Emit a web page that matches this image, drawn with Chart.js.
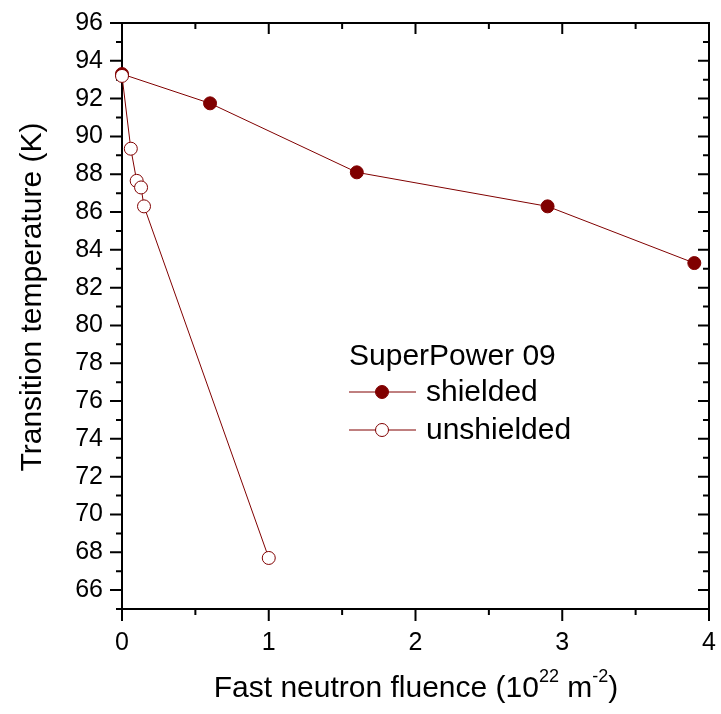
<!DOCTYPE html>
<html><head><meta charset="utf-8">
<script src="https://cdn.jsdelivr.net/npm/chart.js@4/dist/chart.umd.min.js"></script>
<style>html,body{margin:0;padding:0;background:#fff}#wrap{width:721px;height:714px}</style>
</head><body><div id="wrap"><canvas id="c" width="721" height="714"></canvas></div>
<script>
const shieldedFluence = [0, 0.6, 1.6, 2.9, 3.9];
const shieldedTc = [93.3, 91.75, 88.1, 86.3, 83.3];
const unshieldedFluence = [0, 0.06, 0.1, 0.13, 0.15, 1.0];
const unshieldedTc = [93.2, 89.35, 87.65, 87.3, 86.3, 67.7];
const xTicks = [0, 1, 2, 3, 4];
const xMinorTicks = [0.5, 1.5, 2.5, 3.5];
const yTicks = [66, 68, 70, 72, 74, 76, 78, 80, 82, 84, 86, 88, 90, 92, 94, 96];
const yMinorTicks = [65, 67, 69, 71, 73, 75, 77, 79, 81, 83, 85, 87, 89, 91, 93, 95];
const legendTitle = 'SuperPower 09';
const seriesNames = ['shielded', 'unshielded'];
const yTitle = 'Transition temperature (K)';

const COLOR = '#800000';
const FONT = 'Arial, "Liberation Sans", sans-serif';

function pts(xs, ys) { return xs.map((x, i) => ({ x: x, y: ys[i] })); }

const framePlugin = {
  id: 'frame',
  beforeDatasetsDraw(chart) {
    const ctx = chart.ctx, a = chart.chartArea;
    const xs = chart.scales.x, ys = chart.scales.y;
    ctx.save();
    ctx.strokeStyle = '#000';
    ctx.lineWidth = 2;
    ctx.strokeRect(a.left, a.top, a.right - a.left, a.bottom - a.top);
    ctx.beginPath();
    const tick = (x1, y1, x2, y2) => { ctx.moveTo(x1, y1); ctx.lineTo(x2, y2); };
    xTicks.forEach(v => { const p = xs.getPixelForValue(v);
      tick(p, a.bottom, p, a.bottom + 12); tick(p, a.top, p, a.top + 11); });
    xMinorTicks.forEach(v => { const p = xs.getPixelForValue(v);
      tick(p, a.bottom, p, a.bottom + 6); tick(p, a.top, p, a.top + 6); });
    yTicks.forEach(v => { const p = ys.getPixelForValue(v);
      tick(a.left, p, a.left - 12, p); tick(a.right, p, a.right - 11, p); });
    yMinorTicks.forEach(v => { const p = ys.getPixelForValue(v);
      tick(a.left, p, a.left - 6, p); tick(a.right, p, a.right - 6, p); });
    ctx.stroke();
    ctx.restore();
  },
  afterDraw(chart) {
    const ctx = chart.ctx;
    ctx.save();
    ctx.fillStyle = '#000';
    ctx.font = '30px ' + FONT;
    ctx.translate(41, 297);
    ctx.rotate(-Math.PI / 2);
    ctx.textAlign = 'center';
    ctx.textBaseline = 'alphabetic';
    ctx.fillText(yTitle, 0, 0);
    ctx.restore();

    ctx.save();
    ctx.fillStyle = '#000';
    ctx.textBaseline = 'alphabetic';
    ctx.textAlign = 'left';
    const parts = [
      ['Fast neutron fluence (10', false], ['22', true], [' m', false], ['-2', true], [')', false]
    ];
    const mainF = '30px ' + FONT, supF = '18px ' + FONT;
    let total = 0;
    parts.forEach(p => { ctx.font = p[1] ? supF : mainF; total += ctx.measureText(p[0]).width; });
    let x = 416 - total / 2;
    const base = 697;
    parts.forEach(p => {
      ctx.font = p[1] ? supF : mainF;
      ctx.fillText(p[0], x, p[1] ? base - 15 : base);
      x += ctx.measureText(p[0]).width;
    });
    ctx.restore();

    ctx.save();
    ctx.fillStyle = '#000';
    ctx.font = '30px ' + FONT;
    ctx.textBaseline = 'alphabetic';
    ctx.textAlign = 'left';
    ctx.fillText(legendTitle, 349, 365);
    const rows = [392, 430];
    chart.data.datasets.forEach((ds, i) => {
      const y = rows[i];
      ctx.strokeStyle = ds.borderColor;
      ctx.lineWidth = 1;
      ctx.beginPath(); ctx.moveTo(349, y); ctx.lineTo(416, y); ctx.stroke();
      ctx.beginPath(); ctx.arc(382, y, 6.5, 0, Math.PI * 2);
      ctx.fillStyle = ds.pointBackgroundColor; ctx.fill();
      ctx.strokeStyle = ds.pointBorderColor; ctx.lineWidth = 1; ctx.stroke();
      ctx.fillStyle = '#000';
      ctx.textBaseline = 'middle';
      ctx.fillText(seriesNames[i], 426, y + 1);
    });
    ctx.restore();
  }
};

new Chart(document.getElementById('c'), {
  type: 'line',
  data: {
    datasets: [
      { label: seriesNames[0], data: pts(shieldedFluence, shieldedTc), order: 1,
        borderColor: COLOR, borderWidth: 1, pointRadius: 6.5, pointBackgroundColor: COLOR,
        pointBorderColor: COLOR, pointBorderWidth: 1, clip: false, tension: 0 },
      { label: seriesNames[1], data: pts(unshieldedFluence, unshieldedTc), order: 0,
        borderColor: COLOR, borderWidth: 1, pointRadius: 6.5, pointBackgroundColor: '#ffffff',
        pointBorderColor: COLOR, pointBorderWidth: 1, clip: false, tension: 0 }
    ]
  },
  options: {
    responsive: false,
    animation: false,
    devicePixelRatio: 1,
    layout: { padding: { top: 23, right: 12, left: 0, bottom: 0 } },
    plugins: { legend: { display: false }, tooltip: { enabled: false } },
    scales: {
      x: {
        type: 'linear', min: 0, max: 4,
        grid: { display: false, drawTicks: false }, border: { display: false },
        afterBuildTicks: s => { s.ticks = xTicks.map(v => ({ value: v })); },
        afterFit: s => { s.height = 105; s.paddingLeft = 0; s.paddingRight = 0; },
        ticks: { font: { size: 25, family: FONT }, color: '#000', padding: 19, maxRotation: 0 }
      },
      y: {
        type: 'linear', min: 65, max: 96,
        grid: { display: false, drawTicks: false }, border: { display: false },
        afterBuildTicks: s => { s.ticks = yTicks.map(v => ({ value: v })); },
        afterFit: s => { s.width = 122; s.paddingTop = 0; s.paddingBottom = 0; },
        ticks: { font: { size: 25, family: FONT }, color: '#000', padding: 19 }
      }
    }
  },
  plugins: [framePlugin]
});
</script>
</body></html>
